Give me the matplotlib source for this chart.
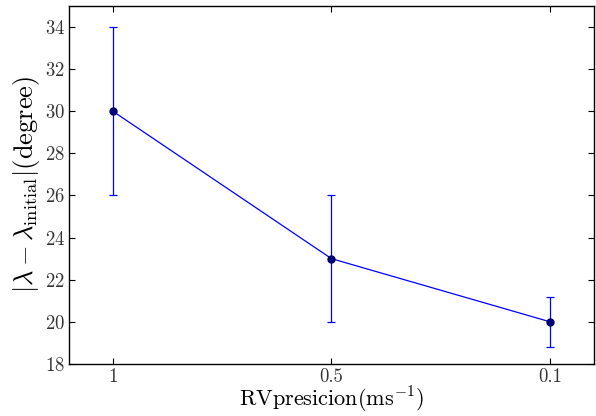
import numpy as np
import matplotlib
matplotlib.use("Agg")
from matplotlib import pyplot as plt

plt.rcParams['font.family'] = 'serif'
plt.rcParams['font.serif'] = ['cmr10', 'DejaVu Serif']
plt.rcParams['mathtext.fontset'] = 'cm'
plt.rcParams['axes.formatter.use_mathtext'] = True

precision_labels = ['1', '0.5', '0.1']
lam_diff = [30, 23, 20]
lam_err = [4, 3, 1.2]

fig = plt.figure(figsize=(5.96, 4.16), dpi=100)
ax = fig.add_axes([0.1158, 0.125, 0.8808, 0.861])

x = np.arange(len(precision_labels))
ax.errorbar(x, lam_diff, yerr=lam_err, color='blue', lw=0.9, elinewidth=0.9,
            capsize=3, capthick=0.9, marker='o', ms=5, mfc='#000080', mec='#000060')

ax.set_xlim(-0.2, 2.2)
ax.set_ylim(18, 35)
ax.set_xticks(x)
ax.set_xticklabels(precision_labels)
ax.set_yticks(np.arange(18, 35, 2))
ax.tick_params(direction='in', top=True, right=True, labelsize=13.5, length=4, pad=3,
               labelcolor='#333333')
for s in ax.spines.values():
    s.set_linewidth(1.0)

ax.set_xlabel('RVpresicion(ms$^{-1}$)', fontsize=16)
ax.xaxis.set_label_coords(0.5, -0.058)
ax.set_ylabel(r'$|\lambda-\lambda_{\rm initial}|\mathrm{(degree)}$', fontsize=19, labelpad=2)

fig.savefig('out.png', dpi=100)
